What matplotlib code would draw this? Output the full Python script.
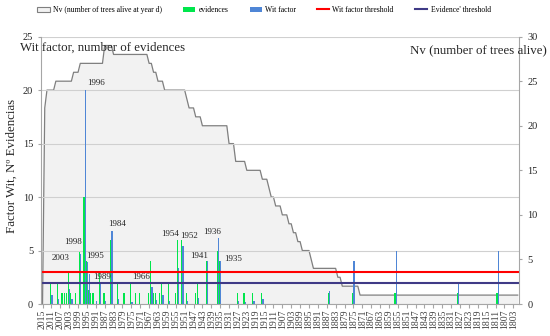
import numpy as np
import matplotlib.pyplot as plt
from matplotlib.patches import Patch
from matplotlib.lines import Line2D

plt.rcParams['font.family'] = ['Liberation Serif', 'DejaVu Serif']

# years on the category axis, newest first
years = list(range(2015, 1800, -1))

# Nv (number of trees alive), as runs: value holds from start year back to next start
nv_start = [2015, 2014, 2013, 2009, 2001, 1998, 1987, 1983, 1967, 1965, 1963, 1960,
            1950, 1949, 1946, 1943, 1931, 1928, 1923, 1916, 1913, 1912, 1910, 1907,
            1904, 1902, 1900, 1898, 1894, 1893, 1882, 1880, 1872]
nv_value = [0, 22, 24, 25, 26, 27, 29, 28, 27, 26, 25, 24,
            23, 22, 21, 20, 18, 16, 15, 14, 13, 12, 11, 10,
            9, 8, 7, 6, 5, 4, 3, 2, 1]

# evidences (green bars)
ev_years = [2011, 2008, 2006, 2005, 2004, 2003, 2002, 2000, 1998, 1996, 1995, 1994,
            1993, 1992, 1989, 1987, 1984, 1981, 1978, 1975, 1973, 1971, 1967, 1966,
            1965, 1964, 1962, 1961, 1958, 1955, 1954, 1952, 1950, 1946, 1945, 1941,
            1936, 1935, 1927, 1924, 1920, 1916, 1886, 1875, 1856, 1828, 1810]
ev_vals = [2, 2, 1, 1, 1, 3, 1, 1, 4.9, 10, 4, 1.3,
           1, 1, 2.9, 1, 6, 2, 1, 2, 1, 1, 1, 4,
           1, 1, 1, 2, 2, 1, 6, 6, 1, 1, 2, 4,
           5, 4, 1, 1, 1, 1, 1, 1, 1, 1, 1]

# Wit factor (blue bars)
wit_years = [2011, 2008, 2003, 2002, 1998, 1996, 1995, 1994, 1991, 1989, 1987, 1984,
             1981, 1975, 1966, 1964, 1961, 1958, 1954, 1952, 1950, 1945, 1941, 1936,
             1935, 1927, 1924, 1920, 1916, 1886, 1875, 1856, 1828, 1810]
wit_vals = [0.8, 0.5, 1.4, 0.5, 4.7, 20, 3.9, 2.8, 0.3, 2.0, 0.3, 6.8,
            0.5, 0.2, 1.6, 0.4, 0.8, 0.3, 3.4, 5.4, 0.3, 0.6, 4, 6.2,
            4, 0.3, 0.2, 0.3, 0.5, 1.2, 4, 5, 2, 5]

wit_threshold = 3
ev_threshold = 2

# year labels written above the main bars
label_text = ['1996', '1998', '2003', '1995', '1984', '1989', '1966',
              '1954', '1952', '1941', '1936', '1935']
label_year = [1991, 2001.1, 2006.7, 1991.4, 1981.3, 1988.3, 1970.8,
              1957.6, 1948.9, 1944.5, 1938.8, 1929.3]
label_val = [20.7, 5.8, 4.3, 4.5, 7.5, 2.5, 2.5,
             6.5, 6.4, 4.5, 6.7, 4.2]

tick_years = years[::4]


def pos(y):
    return 2015 - np.asarray(y, dtype=float)


x = pos(years)
nv = []
for y in years:
    v = 0
    for s, val in zip(nv_start, nv_value):
        if s >= y:
            v = val
    nv.append(v)

c_green = '#00E64C'
c_blue = '#4F86D6'
c_red = '#FF0000'
c_navy = '#3F3A86'
c_axis = '#A6A6A6'

fig = plt.figure(figsize=(5.5, 3.36), dpi=100)
ax = fig.add_axes([0.0753, 0.0952, 0.868, 0.7958])

# Nv area on the right axis
ax.fill_between(x, nv, color='#F2F2F2', lw=0)
ax.plot(x, nv, color='#7F7F7F', lw=0.9)
ax.set_ylim(0, 30)
ax.set_xlim(-0.5, len(years) - 0.5)

ax2 = ax.twinx()
ax.yaxis.tick_right()
ax2.yaxis.tick_left()
ax2.set_ylim(0, 25)
ax2.set_yticks(range(0, 26, 5))
ax.set_yticks(range(0, 31, 5))
ax2.yaxis.grid(True, color='#D0D0D0', lw=0.8)
ax2.set_axisbelow(True)

w = 0.55
ax2.bar(pos(ev_years) - w / 2, ev_vals, width=w, color=c_green, lw=0)
ax2.bar(pos(wit_years) + w / 2, wit_vals, width=w, color=c_blue, lw=0)
ax2.axhline(wit_threshold, color=c_red, lw=1.5)
ax2.axhline(ev_threshold, color=c_navy, lw=1.5)

for t, yr, v in zip(label_text, label_year, label_val):
    ax2.text(pos(yr), v, t, ha='center', va='center', fontsize=6.5, color='#262626')

ax.set_xticks(pos(tick_years))
ax.set_xticklabels([str(t) for t in tick_years], rotation=90, fontsize=7, color='#404040')

for a in (ax, ax2):
    for s in a.spines.values():
        s.set_visible(False)
for s in ('left', 'right', 'bottom'):
    ax2.spines[s].set_visible(True)
    ax2.spines[s].set_color(c_axis)
    ax2.spines[s].set_linewidth(0.8)

ax.tick_params(axis='x', length=3, color=c_axis, pad=1)
ax.tick_params(axis='y', length=2, color=c_axis, labelsize=7.5, pad=4, labelcolor='#262626')
ax2.tick_params(axis='y', length=2, color=c_axis, labelsize=7.5, pad=4, labelcolor='#262626')

fig.text(20 / 550, 1 - 48 / 336, 'Wit factor, number of evidences', fontsize=9.3,
         ha='left', va='center', color='#262626')
fig.text(547 / 550, 1 - 50 / 336, 'Nv (number of trees alive)', fontsize=9.3,
         ha='right', va='center', color='#262626')
fig.text(12 / 550, 1 - 166 / 336, 'Factor Wit, Nº Evidencias', fontsize=9.3,
         rotation=90, ha='center', va='center', color='#262626')

handles = [Patch(facecolor='#F2F2F2', edgecolor='#7F7F7F', lw=0.8),
           Patch(facecolor=c_green), Patch(facecolor=c_blue),
           Line2D([], [], color=c_red, lw=1.5), Line2D([], [], color=c_navy, lw=1.5)]
labels = ['Nv (number of trees alive at year d)', 'evidences', 'Wit factor',
          'Wit factor threshold', "Evidence' threshold"]
fig.legend(handles, labels, loc='center', bbox_to_anchor=(264 / 550, 1 - 10 / 336),
           ncol=5, frameon=False, fontsize=5.5, handlelength=1.6, handleheight=0.7,
           handletextpad=0.4, columnspacing=2.8)

fig.savefig('out.png', dpi=100)
